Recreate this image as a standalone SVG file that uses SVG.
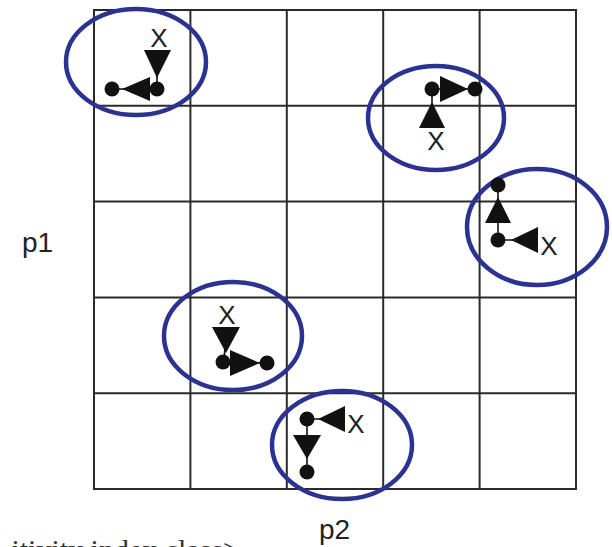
<svg xmlns="http://www.w3.org/2000/svg" width="612" height="547" viewBox="0 0 612 547">
  <style>
    .grid { stroke: #2a2a2a; stroke-width: 2; fill: none; }
    .ring { fill: none; stroke: #2b3292; stroke-width: 4.5; }
    .dot { fill: #111; }
    .head { fill: #111; }
    .stem { stroke: #111; stroke-width: 1.6; }
    .lbl { font-family: "Liberation Sans", Arial, sans-serif; fill: #222; }
    .x { font-size: 26px; text-anchor: middle; }
    .axis { font-size: 28px; }
    .body { font-family: "Liberation Serif", "Times New Roman", serif; font-size: 30px; fill: #333; }
  </style>
  <rect width="612" height="547" fill="#fff"/>

  <!-- 5x5 grid -->
  <g id="grid" class="grid">
    <rect x="94" y="10" width="482" height="479"/>
    <line x1="190.4" y1="10" x2="190.4" y2="489"/>
    <line x1="286.8" y1="10" x2="286.8" y2="489"/>
    <line x1="383.2" y1="10" x2="383.2" y2="489"/>
    <line x1="479.6" y1="10" x2="479.6" y2="489"/>
    <line x1="94" y1="105.8" x2="576" y2="105.8"/>
    <line x1="94" y1="201.6" x2="576" y2="201.6"/>
    <line x1="94" y1="297.4" x2="576" y2="297.4"/>
    <line x1="94" y1="393.2" x2="576" y2="393.2"/>
  </g>

  <!-- connectors: stems between dots -->
  <g id="connectors" class="stem">
    <line x1="157" y1="89" x2="112" y2="89"/>
    <line x1="157" y1="52" x2="157" y2="89"/>
    <line x1="432" y1="89" x2="475" y2="89"/>
    <line x1="432" y1="89" x2="432" y2="126"/>
    <line x1="498" y1="185" x2="498" y2="240"/>
    <line x1="498" y1="240" x2="538" y2="240"/>
    <line x1="226" y1="329" x2="224" y2="362"/>
    <line x1="224" y1="362" x2="267" y2="363"/>
    <line x1="307" y1="419" x2="345" y2="419"/>
    <line x1="307" y1="419" x2="307" y2="472"/>
  </g>

  <g id="node1">
    <ellipse class="ring" cx="136" cy="62" rx="70" ry="53"/>
    <text class="lbl x" x="159" y="47">X</text>
    <polygon class="head" points="144,50 171,50 157,78"/>
    <circle class="dot" cx="157" cy="89" r="7.5"/>
    <polygon class="head" points="122,89 150,77 150,101"/>
    <circle class="dot" cx="112" cy="89" r="7.5"/>
  </g>

  <g id="node2">
    <ellipse class="ring" cx="436" cy="118" rx="68" ry="52"/>
    <circle class="dot" cx="432" cy="89" r="7.5"/>
    <polygon class="head" points="440,76 440,102 468,89"/>
    <circle class="dot" cx="475" cy="89" r="7.5"/>
    <polygon class="head" points="432,102 419,128 445,128"/>
    <text class="lbl x" x="436" y="150">X</text>
  </g>

  <g id="node3">
    <ellipse class="ring" cx="537" cy="227" rx="70" ry="58"/>
    <circle class="dot" cx="498" cy="185" r="7.5"/>
    <polygon class="head" points="498,197 485,223 511,223"/>
    <circle class="dot" cx="498" cy="240" r="7.5"/>
    <polygon class="head" points="511,240 538,227 538,253"/>
    <text class="lbl x" x="549" y="255">X</text>
  </g>

  <g id="node4">
    <ellipse class="ring" cx="233" cy="336" rx="69" ry="54"/>
    <text class="lbl x" x="227" y="324">X</text>
    <polygon class="head" points="212,327 240,327 226,353"/>
    <circle class="dot" cx="223" cy="362" r="7.5"/>
    <polygon class="head" points="230,350 230,376 260,363"/>
    <circle class="dot" cx="267" cy="363" r="7.5"/>
  </g>

  <g id="node5">
    <ellipse class="ring" cx="342" cy="445" rx="70" ry="54"/>
    <circle class="dot" cx="307" cy="419" r="7.5"/>
    <polygon class="head" points="318,419 345,406 345,432"/>
    <text class="lbl x" x="356" y="433">X</text>
    <polygon class="head" points="293,435 321,435 307,459"/>
    <circle class="dot" cx="307" cy="472" r="7.5"/>
  </g>

  <!-- axis labels -->
  <text class="lbl axis" x="22" y="252">p1</text>
  <text class="lbl axis" x="319" y="539">p2</text>

  <!-- running text below, cut by the lower edge -->
  <text class="body" x="240" y="560" text-anchor="end">itivity index class&gt;</text>
</svg>
